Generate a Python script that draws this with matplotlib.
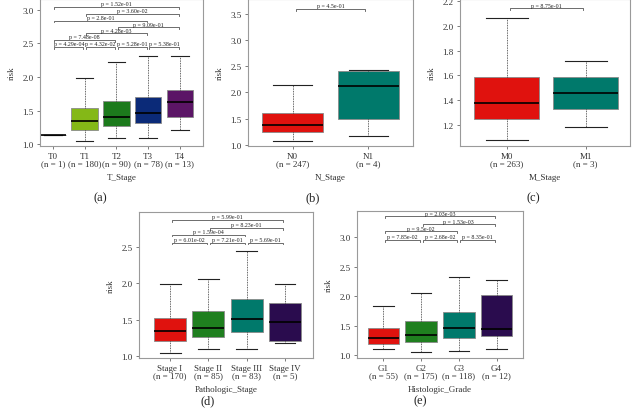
import numpy as np
import matplotlib
matplotlib.use('Agg')
import matplotlib.pyplot as plt

plt.rcParams['font.family'] = ['Liberation Serif', 'DejaVu Serif']

# ---- data ----
# T_Stage
t_labels = ['T0\n(n = 1)', 'T1\n(n = 180)', 'T2\n(n = 90)', 'T3\n(n = 78)', 'T4\n(n = 13)']
t_lo  = [1.14, 1.05, 1.10, 1.10, 1.22]
t_q1  = [1.14, 1.22, 1.27, 1.31, 1.41]
t_med = [1.14, 1.35, 1.41, 1.47, 1.63]
t_q3  = [1.14, 1.54, 1.65, 1.71, 1.81]
t_hi  = [1.14, 1.99, 2.22, 2.31, 2.32]
t_colors = ['#9bbf2a', '#84b817', '#1c7a1c', '#0b2a78', '#5b1566']
t_pairs = [(1, 5), (2, 5), (1, 4), (3, 5), (2, 4), (1, 3), (1, 2), (2, 3), (3, 4), (4, 5)]
t_pvals = ['1.52e-01', '3.60e-02', '2.8e-01', '9.09e-01', '4.28e-03', '7.48e-08',
           '4.29e-04', '4.32e-02', '5.28e-01', '5.38e-01']
t_ylev = [3.04, 2.94, 2.84, 2.74, 2.65, 2.55, 2.45, 2.45, 2.45, 2.45]

# N_Stage
n_labels = ['N0\n(n = 247)', 'N1\n(n = 4)']
n_lo  = [1.07, 1.17]
n_q1  = [1.25, 1.50]
n_med = [1.38, 2.13]
n_q3  = [1.61, 2.42]
n_hi  = [2.15, 2.43]
n_colors = ['#e0120e', '#00796b']
n_pairs = [(1, 2)]
n_pvals = ['4.5e-01']
n_ylev = [3.60]

# M_Stage
m_labels = ['M0\n(n = 263)', 'M1\n(n = 3)']
m_lo  = [1.08, 1.19]
m_q1  = [1.25, 1.33]
m_med = [1.38, 1.46]
m_q3  = [1.59, 1.59]
m_hi  = [2.06, 1.72]
m_colors = ['#e0120e', '#00796b']
m_pairs = [(1, 2)]
m_pvals = ['8.75e-01']
m_ylev = [2.14]

# Pathologic_Stage
p_labels = ['Stage I\n(n = 170)', 'Stage II\n(n = 85)', 'Stage III\n(n = 83)', 'Stage IV\n(n = 5)']
p_lo  = [1.04, 1.10, 1.09, 1.18]
p_q1  = [1.21, 1.26, 1.33, 1.20]
p_med = [1.34, 1.39, 1.51, 1.47]
p_q3  = [1.52, 1.62, 1.78, 1.73]
p_hi  = [1.99, 2.06, 2.45, 1.99]
p_colors = ['#e0120e', '#1f7f1f', '#00796b', '#2a0c4e']
p_pairs = [(1, 4), (2, 4), (1, 3), (1, 2), (2, 3), (3, 4)]
p_pvals = ['5.99e-01', '8.23e-01', '1.59e-04', '6.01e-02', '7.21e-01', '5.69e-01']
p_ylev = [2.87, 2.76, 2.67, 2.56, 2.56, 2.56]

# Histologic_Grade
g_labels = ['G1\n(n = 55)', 'G2\n(n = 175)', 'G3\n(n = 118)', 'G4\n(n = 12)']
g_lo  = [1.10, 1.05, 1.07, 1.10]
g_q1  = [1.20, 1.23, 1.29, 1.33]
g_med = [1.29, 1.35, 1.47, 1.45]
g_q3  = [1.47, 1.58, 1.73, 2.03]
g_hi  = [1.84, 2.06, 2.32, 2.28]
g_colors = ['#e0120e', '#1f7f1f', '#00796b', '#2a0c4e']
g_pairs = [(1, 4), (2, 4), (1, 3), (1, 2), (2, 3), (3, 4)]
g_pvals = ['2.03e-03', '1.53e-03', '9.5e-02', '7.85e-02', '2.68e-02', '8.35e-01']
g_ylev = [3.355, 3.22, 3.10, 2.955, 2.955, 2.955]


def draw_panel(ax, labels, lo, q1, med, q3, hi, colors, pairs, pvals, ylev,
               xlim, ylim, yticks, xlabel, width=0.84):
    stats = []
    for i in range(len(labels)):
        stats.append(dict(whislo=lo[i], q1=q1[i], med=med[i], q3=q3[i], whishi=hi[i]))
    pos = np.arange(1, len(labels) + 1)
    bp = ax.bxp(stats, positions=pos, widths=width, capwidths=width * 0.65,
                showfliers=False, patch_artist=True,
                boxprops=dict(edgecolor='#8a8a8a', linewidth=0.6),
                whiskerprops=dict(linestyle=(0, (1, 1)), color='#333333', linewidth=0.6),
                capprops=dict(color='#222222', linewidth=0.8),
                medianprops=dict(color='black', linewidth=1.2))
    for patch, c in zip(bp['boxes'], colors):
        patch.set_facecolor(c)

    rng = ylim[1] - ylim[0]
    tip = rng * 0.012
    for (a, b), p, y in zip(pairs, pvals, ylev):
        x1, x2 = a + 0.04, b - 0.04
        ax.plot([x1, x1, x2, x2], [y - tip, y, y, y - tip], color='#555555', lw=0.6)
        ax.text((a + b) / 2, y + rng * 0.004, 'p = ' + p, ha='center', va='bottom',
                fontsize=4.3, color='#222222')

    ax.set_xlim(*xlim)
    ax.set_ylim(*ylim)
    ax.set_yticks(yticks)
    ax.set_yticklabels(['%.1f' % v for v in yticks])
    ax.set_xticks(pos)
    ax.set_xticklabels(labels, linespacing=0.9)
    ax.tick_params(axis='both', labelsize=6.5, length=2.5, width=0.6, color='#666666',
                   labelcolor='#333333', pad=2)
    for s in ax.spines.values():
        s.set_color('#9a9a9a')
        s.set_linewidth(0.8)
    ax.set_ylabel('risk', fontsize=6.5, color='#333333', labelpad=5)
    ax.set_xlabel(xlabel, fontsize=6.5, color='#333333', labelpad=4)


W, H = 632, 414
fig = plt.figure(figsize=(W / 100, H / 100), dpi=100)


def box(l, r, t, b):
    return [l / W, 1 - b / H, (r - l) / W, (b - t) / H]


def tag(x, y, s):
    fig.text(x / W, 1 - y / H, s, ha='center', va='center', fontsize=9, color='#222222')


ax_a = fig.add_axes(box(40, 203, 0, 147))
draw_panel(ax_a, t_labels, t_lo, t_q1, t_med, t_q3, t_hi, t_colors, t_pairs, t_pvals, t_ylev,
           (0.59, 5.73), (0.975, 3.16), [1.0, 1.5, 2.0, 2.5, 3.0], 'T_Stage')
tag(100, 198, '(a)')

ax_b = fig.add_axes(box(248, 413, 0, 147))
draw_panel(ax_b, n_labels, n_lo, n_q1, n_med, n_q3, n_hi, n_colors, n_pairs, n_pvals, n_ylev,
           (0.41, 2.59), (0.975, 3.79), [1.0, 1.5, 2.0, 2.5, 3.0, 3.5], 'N_Stage', width=0.8)
tag(313, 198, '(b)')

ax_c = fig.add_axes(box(460, 630, 0, 147))
draw_panel(ax_c, m_labels, m_lo, m_q1, m_med, m_q3, m_hi, m_colors, m_pairs, m_pvals, m_ylev,
           (0.41, 2.56), (1.035, 2.213), [1.2, 1.4, 1.6, 1.8, 2.0, 2.2], 'M_Stage', width=0.82)
tag(533, 198, '(c)')

ax_d = fig.add_axes(box(139, 313, 213, 359))
draw_panel(ax_d, p_labels, p_lo, p_q1, p_med, p_q3, p_hi, p_colors, p_pairs, p_pvals, p_ylev,
           (0.19, 4.73), (0.973, 2.98), [1.0, 1.5, 2.0, 2.5], 'Pathologic_Stage')
tag(208, 401, '(d)')

ax_e = fig.add_axes(box(357, 523, 212, 359))
draw_panel(ax_e, g_labels, g_lo, g_q1, g_med, g_q3, g_hi, g_colors, g_pairs, g_pvals, g_ylev,
           (0.30, 4.70), (0.955, 3.445), [1.0, 1.5, 2.0, 2.5, 3.0], 'Histologic_Grade')
tag(420, 401, '(e)')

fig.savefig('out.png', dpi=100, facecolor='white')
